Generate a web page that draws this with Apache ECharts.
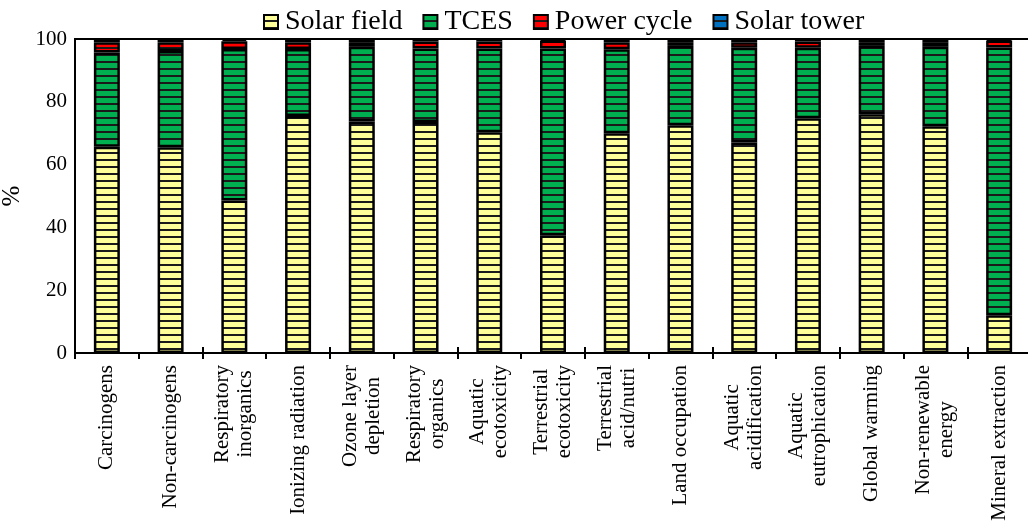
<!DOCTYPE html>
<html>
<head>
<meta charset="utf-8">
<script src="https://cdn.jsdelivr.net/npm/echarts@6/dist/echarts.min.js"></script>
<style>
    html, body {margin: 0; padding: 0; background: #fff;}
    #main {width: 1028px; height: 521px;}
</style>
</head>
<body>
<div id="main"></div>
<script>
    var categories = ['Carcinogens', 'Non-carcinogens', 'Respiratory\ninorganics', 'Ionizing radiation',
        'Ozone layer\ndepletion', 'Respiratory\norganics', 'Aquatic\necotoxicity', 'Terrestrial\necotoxicity',
        'Terrestrial\nacid/nutri', 'Land occupation', 'Aquatic\nacidification', 'Aquatic\neutrophication',
        'Global warming', 'Non-renewable\nenergy', 'Mineral extraction'];
    var solarField = [65.7, 65.5, 48.6, 75.5, 73.7, 73.6, 70.3, 37.5, 70.0, 72.5, 67.0, 74.8, 76.0, 72.2, 12.0];
    var tces = [30.0, 30.7, 48.2, 21.3, 23.8, 23.4, 26.7, 59.5, 26.7, 25.3, 30.2, 22.4, 21.8, 25.3, 85.3];
    var powerCycle = [3.3, 2.8, 2.5, 2.2, 1.5, 2.2, 2.2, 2.5, 2.3, 1.2, 1.8, 2.0, 1.2, 1.5, 2.2];
    var solarTower = [1.0, 1.0, 0.7, 1.0, 1.0, 0.8, 0.8, 0.5, 1.0, 1.0, 1.0, 0.8, 1.0, 1.0, 0.5];
    var yTicks = [0, 20, 40, 60, 80, 100];

    var font = '"Liberation Serif", "Times New Roman", serif';

    // striped fill: colour with a dark horizontal line every 7px
    function stripes(fill) {
        var c = document.createElement('canvas');
        c.width = 8;
        c.height = 7;
        var ctx = c.getContext('2d');
        ctx.fillStyle = fill;
        ctx.fillRect(0, 0, 8, 7);
        ctx.fillStyle = '#1a1a1a';
        ctx.fillRect(0, 5, 8, 2);
        return {image: c, repeat: 'repeat'};
    }

    function bar(name, data, fill) {
        return {
            name: name, type: 'bar', stack: 'all', barWidth: 26, data: data,
            itemStyle: {color: stripes(fill), borderColor: '#000', borderWidth: 2.5},
            emphasis: {disabled: true}
        };
    }

    var chart = echarts.init(document.getElementById('main'));
    chart.setOption({
        animation: false,
        legend: {
            left: 258, top: 3, icon: 'rect', itemWidth: 14, itemHeight: 14, itemGap: 20,
            textStyle: {fontFamily: font, fontSize: 28, color: '#000', padding: [0, 0, 0, 2]},
            itemStyle: {borderColor: '#000', borderWidth: 2}
        },
        grid: {
            left: 75, top: 39, right: -3, bottom: 168, outerBoundsMode: 'none', containLabel: false,
            show: true, borderColor: '#000', borderWidth: 2
        },
        xAxis: [{
            type: 'category', data: categories, position: 'bottom',
            axisLine: {lineStyle: {color: '#000', width: 2}},
            axisTick: {show: true, length: 6, lineStyle: {color: '#000', width: 2}},
            axisLabel: {
                rotate: 90, margin: 12, color: '#000', fontFamily: font, fontSize: 21, lineHeight: 23,
                formatter: function (v) {
                    return v.split('\n').map(function (s) { return '{c|' + s + '}'; }).join('\n');
                },
                rich: {c: {align: 'center', fontFamily: font, fontSize: 21, lineHeight: 23, color: '#000'}}
            }
        }, {
            type: 'category', data: categories, position: 'bottom', offset: 0,
            axisLine: {show: false},
            axisTick: {show: true, inside: true, length: 6, lineStyle: {color: '#000', width: 2}},
            axisLabel: {show: false}
        }],
        yAxis: {
            type: 'value', min: yTicks[0], max: yTicks[yTicks.length - 1], interval: 20,
            name: '%', nameLocation: 'middle', nameGap: 40, nameRotate: 90,
            nameTextStyle: {fontFamily: font, fontSize: 25, color: '#000'},
            axisLine: {show: true, lineStyle: {color: '#000', width: 2}},
            axisTick: {show: false},
            splitLine: {show: false},
            axisLabel: {margin: 8, color: '#000', fontFamily: font, fontSize: 21}
        },
        series: [
            bar('Solar field', solarField, '#ffff99'),
            bar('TCES', tces, '#00b050'),
            bar('Power cycle', powerCycle, '#ff0000'),
            bar('Solar tower', solarTower, '#0070c0')
        ]
    });
</script>
</body>
</html>
